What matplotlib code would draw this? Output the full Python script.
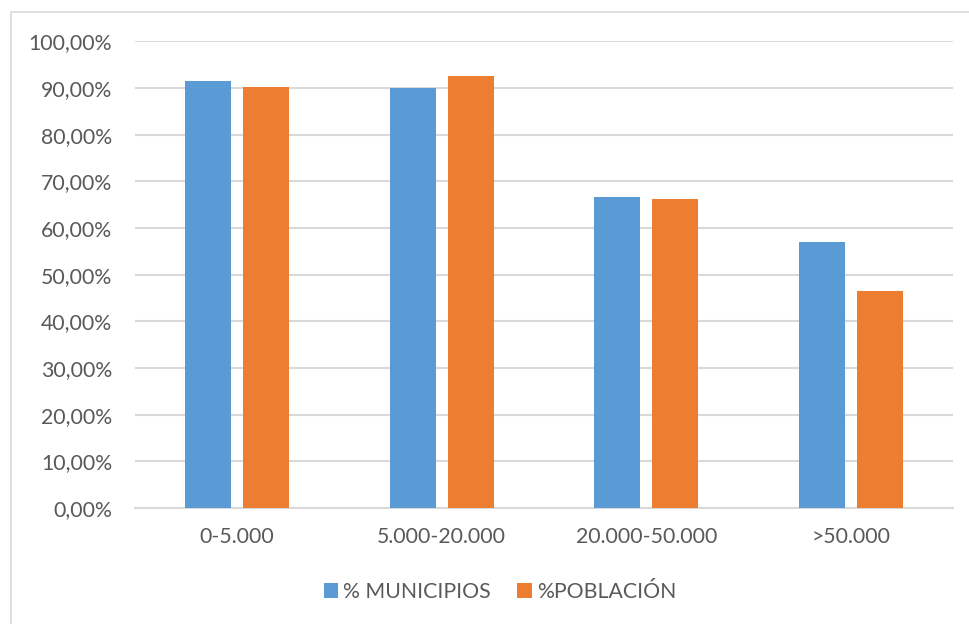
import matplotlib
matplotlib.use("Agg")
import matplotlib.pyplot as plt
from matplotlib.patches import Rectangle
from matplotlib.ticker import FuncFormatter
import numpy as np

categories = ["0-5.000", "5.000-20.000", "20.000-50.000", ">50.000"]
municipios = [91.5, 90.0, 66.7, 57.1]
poblacion = [90.2, 92.5, 66.2, 46.4]
series_names = ["% MUNICIPIOS", "%POBLACIÓN"]

blue = "#5b9bd5"
orange = "#ed7d31"
grey_txt = "#595959"
grid_c = "#d9d9d9"

plt.rcParams["font.family"] = ["Lato", "DejaVu Sans"]

fig = plt.figure(figsize=(9.7, 6.24), dpi=100)
W, H = 970, 624
ax = fig.add_axes([135 / W, 1 - 508 / H, (953 - 135) / W, (508 - 41.3) / H])

# chart frame
fig.patches.append(Rectangle((11 / W, -0.1), 1.2, 1 - 12 / H + 0.1,
                             transform=fig.transFigure, fill=False,
                             edgecolor=grid_c, linewidth=1.2))

x = np.arange(len(categories))
bw = 0.225
off = 0.142
ax.bar(x - off, municipios, bw, color=blue, label=series_names[0], zorder=3)
ax.bar(x + off, poblacion, bw, color=orange, label=series_names[1], zorder=3)

ax.set_xlim(-0.5, len(categories) - 0.5)
ax.set_ylim(0, 100)
ax.set_yticks(np.arange(0, 101, 10))
ax.yaxis.set_major_formatter(FuncFormatter(lambda v, p: f"{v:.2f}".replace(".", ",") + "%"))
ax.set_xticks(x)
ax.set_xticklabels(categories)
ax.grid(axis="y", color=grid_c, linewidth=1.5, zorder=0)
for s in ["top", "right", "left"]:
    ax.spines[s].set_visible(False)
ax.spines["bottom"].set_color(grid_c)
ax.spines["bottom"].set_linewidth(1.5)
ax.tick_params(axis="both", length=0, labelsize=15.3, colors=grey_txt)
ax.tick_params(axis="y", pad=16.5)
ax.tick_params(axis="x", pad=14)

fig.legend(loc="center", bbox_to_anchor=(500 / W, 1 - 592 / H), ncol=2, frameon=False,
           fontsize=15.3, labelcolor=grey_txt, handlelength=0.68, handleheight=0.68,
           handletextpad=0.24, columnspacing=1.25)

fig.savefig("out.png", dpi=100)
